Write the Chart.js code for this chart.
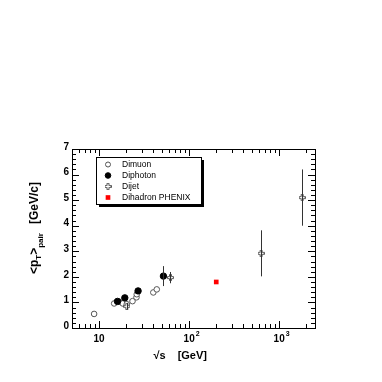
<!DOCTYPE html>
<html><head><meta charset="utf-8">
<script src="https://cdn.jsdelivr.net/npm/chart.js@4.4.1/dist/chart.umd.min.js"></script>
<style>html,body{margin:0;background:#fff}#wrap{width:382px;height:382px}</style>
</head><body><div id="wrap"><canvas id="c"></canvas></div>
<script>
// values
const dimuonX = [8.8, 14.7, 16.7, 18.3, 20.3, 23.5, 26.0, 26.2, 40, 43.7]
const dimuonY = [0.55, 0.96, 1.03, 0.96, 0.93, 1.05, 1.2, 1.32, 1.39, 1.51]
const diphotonX = [16.0, 19.3, 27.1, 51.8]
const diphotonY = [1.04, 1.18, 1.45, 2.03]
const diphotonErr = [0, 0, 0, 0.39]
const dijetX = [20.3, 62, 630, 1800]
const dijetY = [0.85, 1.97, 2.92, 5.1]
const dijetErr = [0.13, 0.22, 0.9, 1.1]
const phenixX = [200]
const phenixY = [1.8]

const xMajor = [10, 100, 1000]
const xMajorBase = ["10", "10", "10"]
const xMajorExp = ["", "2", "3"]
const xMinor = [5,6,7,8,9,20,30,40,50,60,70,80,90,200,300,400,500,600,700,800,900,2000]
const yMajor = [0,1,2,3,4,5,6,7]

const pts = (xs, ys) => xs.map((x,i)=>({x:x, y:ys[i]}))

// open cross marker for dijet
function crossMarker(){
  const c = document.createElement("canvas")
  c.width = 7; c.height = 7
  const g = c.getContext("2d")
  g.strokeStyle = "#555"; g.lineWidth = 1
  g.beginPath()
  g.moveTo(2.5,0.5); g.lineTo(4.5,0.5); g.lineTo(4.5,2.5); g.lineTo(6.5,2.5); g.lineTo(6.5,4.5)
  g.lineTo(4.5,4.5); g.lineTo(4.5,6.5); g.lineTo(2.5,6.5); g.lineTo(2.5,4.5); g.lineTo(0.5,4.5)
  g.lineTo(0.5,2.5); g.lineTo(2.5,2.5); g.closePath()
  g.fillStyle = "#fff"; g.fill(); g.stroke()
  return c
}
const dijetMarker = crossMarker()

const FONT = "'Liberation Sans', Arial, Helvetica, sans-serif"

const rootFrame = {
  id: "rootFrame",
  afterDatasetsDraw(chart){
    const ctx = chart.ctx
    const xs = chart.scales.x, ys = chart.scales.y
    ctx.save()
    // error bars
    ctx.strokeStyle = "#333"; ctx.lineWidth = 1
    const bars = [[diphotonX, diphotonY, diphotonErr], [dijetX, dijetY, dijetErr]]
    bars.forEach(([X,Y,E])=>{
      X.forEach((x,i)=>{
        if(!E[i]) return
        const px = Math.round(xs.getPixelForValue(x)) + 0.5
        ctx.beginPath()
        ctx.moveTo(px, ys.getPixelForValue(Y[i]+E[i]))
        ctx.lineTo(px, ys.getPixelForValue(Y[i]-E[i]))
        ctx.stroke()
      })
    })
    ctx.restore()
  },
  afterDraw(chart){
    const ctx = chart.ctx, a = chart.chartArea
    const xs = chart.scales.x, ys = chart.scales.y
    ctx.save()
    ctx.strokeStyle = "#000"; ctx.lineWidth = 1
    ctx.strokeRect(a.left+0.5, a.top+0.5, a.right-a.left, a.bottom-a.top)
    ctx.beginPath()
    // x ticks, bottom and top, pointing inward
    const xt = (v, len)=>{
      const px = Math.round(xs.getPixelForValue(v)) + 0.5
      ctx.moveTo(px, a.bottom); ctx.lineTo(px, a.bottom - len)
      ctx.moveTo(px, a.top); ctx.lineTo(px, a.top + len)
    }
    xMajor.forEach(v=>xt(v, 7))
    xMinor.forEach(v=>xt(v, 4))
    // y ticks, left and right
    const yt = (v, len)=>{
      const py = Math.round(ys.getPixelForValue(v)) + 0.5
      ctx.moveTo(a.left, py); ctx.lineTo(a.left + len, py)
      ctx.moveTo(a.right, py); ctx.lineTo(a.right - len, py)
    }
    yMajor.forEach(v=>yt(v, 7))
    for(let k=0;k<35;k++){ if(k%5) yt(k*0.2, 4) }
    ctx.stroke()

    // tick labels
    ctx.fillStyle = "#000"
    ctx.font = "bold 10px " + FONT
    ctx.textAlign = "right"; ctx.textBaseline = "middle"
    yMajor.forEach(v=>ctx.fillText(String(v), a.left - 3, ys.getPixelForValue(v) - 2))
    xMajor.forEach((v,i)=>{
      const px = xs.getPixelForValue(v)
      ctx.font = "bold 10px " + FONT
      ctx.textAlign = "center"; ctx.textBaseline = "top"
      ctx.fillText(xMajorBase[i], px, a.bottom + 6)
      if(xMajorExp[i]){
        const w = ctx.measureText(xMajorBase[i]).width
        ctx.font = "bold 7px " + FONT
        ctx.textAlign = "left"
        ctx.fillText(xMajorExp[i], px + w/2 + 1, a.bottom + 3)
      }
    })

    // x title
    ctx.font = "bold 11px " + FONT
    ctx.textAlign = "left"; ctx.textBaseline = "alphabetic"
    const sq = "\u221As"
    const tx = (a.left + a.right)/2 - 40
    ctx.fillText(sq, tx, a.bottom + 31)
    ctx.fillText("[GeV]", tx + ctx.measureText(sq).width + 12, a.bottom + 31)

    // y title rotated
    ctx.translate(38, 274)
    ctx.rotate(-Math.PI/2)
    ctx.font = "bold 12px " + FONT
    let x0 = 0
    ctx.fillText("<p", x0, 0); x0 += ctx.measureText("<p").width
    ctx.font = "bold 8px " + FONT
    ctx.fillText("T", x0, 3); x0 += ctx.measureText("T").width
    ctx.font = "bold 12px " + FONT
    ctx.fillText(">", x0, 0); x0 += ctx.measureText(">").width
    ctx.font = "bold 8px " + FONT
    ctx.fillText("pair", x0, 5); x0 += ctx.measureText("pair").width + 9
    ctx.font = "bold 12px " + FONT
    ctx.fillText("[GeV/c]", x0, 0)
    ctx.restore()

    // legend box with shadow
    ctx.save()
    const bx = 96, by = 157, bw = 105, bh = 47
    ctx.fillStyle = "#000"
    ctx.fillRect(bx + 3, by + 3, bw, bh)
    ctx.fillStyle = "#fff"
    ctx.fillRect(bx, by, bw, bh)
    ctx.strokeStyle = "#000"; ctx.lineWidth = 1
    ctx.strokeRect(bx + 0.5, by + 0.5, bw, bh)
    ctx.font = "8.5px " + FONT
    ctx.textAlign = "left"; ctx.textBaseline = "middle"
    chart.data.datasets.forEach((ds, i)=>{
      const ly = by + 7.5 + i*11
      ctx.fillStyle = ds.backgroundColor
      ctx.strokeStyle = ds.borderColor
      ctx.lineWidth = ds.borderWidth || 1
      Chart.helpers.drawPoint(ctx, {
        pointStyle: ds.pointStyle, radius: ds.legendRadius, borderWidth: ds.borderWidth, rotation: 0
      }, bx + 12, ly)
      ctx.fillStyle = "#000"
      ctx.fillText(ds.label, bx + 26, ly)
    })
    ctx.restore()
  }
}

const datasets = [
  {label:"Dimuon", data:pts(dimuonX, dimuonY), pointStyle:"circle", pointRadius:2.8, legendRadius:2.5,
   backgroundColor:"#fff", borderColor:"#555", borderWidth:1, order:3},
  {label:"Diphoton", data:pts(diphotonX, diphotonY), pointStyle:"circle", pointRadius:3.2, legendRadius:2.8,
   backgroundColor:"#000", borderColor:"#000", borderWidth:1, order:0},
  {label:"Dijet", data:pts(dijetX, dijetY), pointStyle:dijetMarker, pointRadius:3.5, legendRadius:3.5,
   backgroundColor:"#fff", borderColor:"#555", borderWidth:1, order:1},
  {label:"Dihadron PHENIX", data:pts(phenixX, phenixY), pointStyle:"rect", pointRadius:3.3, legendRadius:3.3,
   backgroundColor:"#ff0000", borderColor:"#ff0000", borderWidth:0, order:2}
]

new Chart(document.getElementById("c"), {
  type:"scatter",
  data:{datasets:datasets},
  options:{
    responsive:true, maintainAspectRatio:false, animation:false,
    layout:{padding:{left:72, right:67, top:149, bottom:54}},
    plugins:{legend:{display:false}, tooltip:{enabled:false}},
    scales:{
      x:{type:"logarithmic", min:5, max:2500, display:false},
      y:{type:"linear", min:0, max:7, display:false}
    }
  },
  plugins:[rootFrame]
})
</script>
</body></html>
